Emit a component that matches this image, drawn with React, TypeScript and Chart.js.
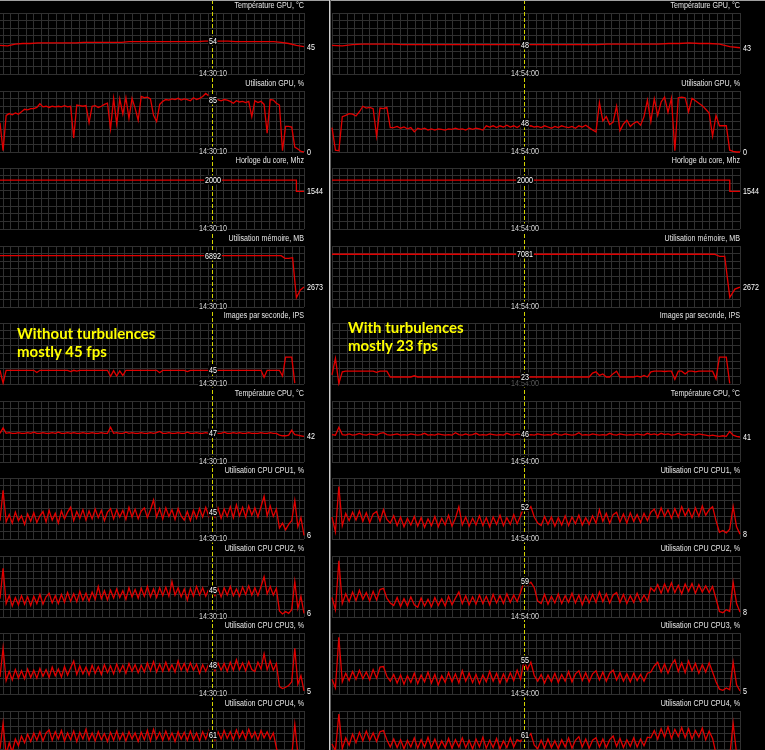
import React, { useEffect, useRef, useState } from 'react';
import { Chart, registerables } from 'chart.js';
Chart.register(...registerables);

// ---------- layout constants ----------
const PITCH = 77.5;
const GRID_TOP = 13;
const GRID_H = 61;
const GRID_COLOR = '#303030';
const LINE_COLOR = '#e00000';
const CURSOR_COLOR = '#d2d200';
const LABEL_FONT = "'Liberation Sans', Arial, sans-serif";
const NARROW = 0.84;

// ---------- text ----------
const TITLES = [
  'Température GPU, °C',
  'Utilisation GPU, %',
  'Horloge du core, Mhz',
  'Utilisation mémoire, MB',
  'Images par seconde, IPS',
  'Température CPU, °C',
  'Utilisation CPU CPU1, %',
  'Utilisation CPU CPU2, %',
  'Utilisation CPU CPU3, %',
  'Utilisation CPU CPU4, %',
];
const Y_MIN = [0, 0, 0, 0, 0, 0, 0, 0, 0, 0];
const Y_MAX = [100, 100, 2500, 8192, 200, 100, 100, 100, 100, 100];
const LEFT_TIME = '14:30:10';
const RIGHT_TIME = '14:54:00';
const LEFT_NOTE = ['Without turbulences', 'mostly 45 fps'];
const RIGHT_NOTE = ['With turbulences', 'mostly 23 fps'];

// ---------- LEFT run (without turbulences) ----------
const L_GPU_TEMP = [47, 46, 49, 50, 50, 51, 51, 51, 51, 51, 51, 52, 52, 52, 52, 52, 52, 53, 53, 53, 53, 53, 53, 53, 53, 53, 53, 54, 54, 54, 54, 53, 53, 53, 53, 53, 53, 52, 50, 47, 45];
const L_GPU_UTIL = [
  48, 2, 60, 63, 61, 64, 62, 66, 70, 69,
  71, 71, 73, 79, 74, 75, 73, 75, 74, 75,
  74, 76, 74, 75, 23, 77, 76, 75, 76, 48,
  75, 76, 73, 75, 78, 80, 38, 88, 46, 87,
  62, 89, 55, 88, 72, 52, 91, 89, 90, 87,
  60, 50, 78, 83, 86, 85, 87, 86, 88, 85,
  87, 86, 84, 89, 86, 88, 91, 96, 92, 85,
  87, 86, 84, 86, 85, 83, 80, 84, 82, 83,
  81, 83, 58, 84, 81, 83, 78, 31, 86, 85,
  80, 77, 2, 42, 42, 41, 8, 5, 1, 0];
const L_CLOCK = [2000, 2000, 2000, 2000, 2000, 2000, 2000, 2000, 2000, 2000, 2000, 2000, 2000, 2000, 2000, 2000, 2000, 2000, 2000, 2000, 2000, 2000, 2000, 2000, 2000, 2000, 2000, 2000, 2000, 2000, 2000, 2000, 2000, 2000, 2000, 2000, 2000, 2000, 2000, 1544, 1544];
const L_MEM = [
  6892, 6892, 6892, 6892, 6892, 6892, 6892, 6892, 6892, 6892,
  6892, 6892, 6892, 6892, 6892, 6892, 6892, 6892, 6892, 6892,
  6892, 6892, 6892, 6892, 6892, 6892, 6892, 6892, 6892, 6892,
  6892, 6892, 6892, 6892, 6892, 6892, 6892, 6892, 6892, 6892,
  6892, 6892, 6892, 6892, 6892, 6892, 6892, 6892, 6892, 6892,
  6892, 6892, 6892, 6892, 6892, 6892, 6892, 6892, 6892, 6892,
  6892, 6892, 6892, 6892, 6892, 6892, 6892, 6892, 6892, 6892,
  6892, 6892, 6892, 6892, 6892, 6540, 6540, 6620, 1250, 2250,
  2673];
const L_FPS = [
  45, 3, 45, 45, 45, 45, 45, 45, 45, 45,
  45, 45, 38, 45, 45, 45, 45, 45, 45, 45,
  45, 45, 45, 41, 45, 42, 45, 45, 45, 45,
  45, 45, 45, 45, 45, 45, 25, 44, 26, 43,
  28, 45, 45, 45, 45, 45, 45, 45, 45, 45,
  45, 45, 37, 45, 45, 45, 45, 45, 45, 45,
  45, 41, 45, 45, 45, 45, 45, 45, 45, 45,
  45, 45, 45, 45, 45, 45, 45, 45, 45, 45,
  45, 45, 45, 45, 45, 45, 22, 45, 45, 45,
  45, 45, 26, 88, 88, 88, 3, null, null, null];
const L_CPU_TEMP = [
  47, 56, 47, 48, 47, 47, 48, 47, 47, 48,
  47, 49, 47, 47, 48, 47, 47, 48, 47, 49,
  47, 47, 48, 47, 48, 47, 47, 48, 47, 47,
  48, 47, 47, 48, 47, 47, 57, 47, 48, 47,
  47, 49, 47, 48, 47, 47, 48, 47, 47, 48,
  47, 48, 50, 47, 47, 48, 47, 47, 48, 47,
  47, 49, 47, 47, 48, 47, 47, 48, 47, 47,
  48, 47, 47, 49, 47, 47, 48, 47, 48, 47,
  47, 48, 47, 47, 47, 48, 47, 47, 48, 47,
  47, 44, 43, 43, 44, 52, 45, 44, 43, 42];
const L_CPU1 = [
  30, 80, 28, 40, 26, 44, 30, 38, 24, 41,
  29, 43, 27, 38, 45, 28, 47, 31, 42, 26,
  46, 33, 44, 52, 30, 45, 34, 48, 31, 46,
  33, 49, 35, 47, 30, 44, 50, 33, 48, 36,
  47, 32, 52, 36, 49, 33, 46, 51, 35, 48,
  64, 36, 50, 33, 51, 37, 48, 32, 50, 38,
  31, 45, 30, 47, 34, 50, 36, 52, 37, 45,
  36, 51, 34, 49, 37, 53, 35, 56, 38, 52,
  36, 54, 39, 51, 36, 53, 70, 38, 54, 37,
  49, 18, 26, 15, 24, 30, 63, 20, 35, 6];
const L_CPU2 = [
  30, 80, 22, 35, 18, 32, 20, 35, 21, 33,
  19, 34, 22, 37, 21, 33, 39, 23, 35, 22,
  37, 24, 40, 26, 38, 25, 42, 27, 39, 26,
  41, 29, 50, 30, 43, 28, 44, 31, 46, 32,
  43, 29, 48, 33, 45, 31, 47, 34, 50, 33,
  46, 32, 48, 35, 49, 34, 58, 36, 48, 33,
  46, 28, 47, 34, 50, 36, 48, 34, 46, 45,
  35, 47, 33, 48, 36, 50, 35, 46, 34, 49,
  37, 51, 36, 48, 35, 50, 66, 38, 50, 36,
  47, 10, 5, 9, 6, 12, 58, 14, 34, 6];
const L_CPU3 = [
  28, 75, 22, 37, 23, 40, 26, 38, 25, 41,
  27, 39, 26, 42, 29, 40, 27, 44, 30, 41,
  28, 45, 31, 43, 54, 32, 46, 33, 44, 31,
  47, 34, 45, 32, 48, 35, 46, 33, 49, 36,
  47, 34, 50, 37, 48, 35, 47, 36, 51, 38,
  53, 36, 49, 37, 52, 38, 48, 36, 54, 39,
  50, 37, 51, 39, 49, 34, 48, 37, 50, 48,
  38, 51, 39, 50, 37, 52, 39, 56, 40, 51,
  38, 53, 40, 37, 52, 41, 66, 40, 54, 39,
  50, 12, 9, 11, 14, 20, 75, 16, 30, 5];
const L_CPU4 = [
  38, 80, 28, 48, 33, 54, 43, 59, 48, 62,
  50, 64, 52, 66, 51, 64, 69, 52, 66, 54,
  68, 51, 64, 53, 67, 50, 65, 54, 70, 52,
  64, 51, 66, 53, 63, 50, 65, 52, 67, 53,
  64, 51, 66, 54, 64, 50, 65, 53, 68, 51,
  70, 54, 65, 52, 67, 53, 64, 50, 66, 54,
  65, 52, 67, 53, 64, 51, 66, 54, 68, 61,
  52, 66, 54, 68, 55, 66, 53, 69, 56, 67,
  54, 70, 56, 66, 53, 68, 56, 66, 54, 64,
  40, 20, 16, 24, 18, 26, 78, 30, 25, 20];

// ---------- RIGHT run (with turbulences) ----------
const R_GPU_TEMP = [47, 46, 48, 49, 49, 49, 49, 48, 48, 48, 48, 48, 48, 48, 48, 48, 48, 48, 48, 48, 48, 48, 48, 48, 48, 48, 48, 49, 49, 49, 49, 49, 49, 50, 50, 51, 50, 50, 49, 45, 43];
const R_GPU_UTIL = [
  40, 3, 2, 58, 60, 63, 62, 59, 66, 75,
  72, 73, 71, 26, 72, 71, 73, 40, 40, 42,
  39, 41, 38, 40, 33, 39, 37, 39, 36, 38,
  36, 38, 37, 36, 38, 37, 39, 37, 38, 36,
  39, 37, 39, 38, 36, 43, 41, 43, 40, 43,
  41, 44, 41, 43, 40, 44, 48, 42, 43, 41,
  42, 40, 43, 41, 39, 42, 40, 43, 41, 40,
  42, 39, 43, 41, 44, 40, 36, 33, 81, 51,
  58, 45, 49, 75, 35, 46, 52, 42, 47, 50,
  44, 58, 85, 50, 87, 60, 82, 90, 65, 88,
  2, 89, 90, 89, 66, 88, 84, 80, 76, 70,
  64, 26, 60, 43, 43, 43, 3, 1, 0, 0];
const R_CLOCK = [2000, 2000, 2000, 2000, 2000, 2000, 2000, 2000, 2000, 2000, 2000, 2000, 2000, 2000, 2000, 2000, 2000, 2000, 2000, 2000, 2000, 2000, 2000, 2000, 2000, 2000, 2000, 2000, 2000, 2000, 2000, 2000, 2000, 2000, 2000, 2000, 2000, 2000, 2000, 1544, 1544];
const R_MEM = [
  7081, 7081, 7081, 7081, 7081, 7081, 7081, 7081, 7081, 7081,
  7081, 7081, 7081, 7081, 7081, 7081, 7081, 7081, 7081, 7081,
  7081, 7081, 7081, 7081, 7081, 7081, 7081, 7081, 7081, 7081,
  7081, 7081, 7081, 7081, 7081, 7081, 7081, 7081, 7081, 7081,
  7081, 7081, 7081, 7081, 7081, 7081, 7081, 7081, 7081, 7081,
  7081, 7081, 7081, 7081, 7081, 7081, 7081, 7081, 7081, 7081,
  7081, 7081, 7081, 7081, 7081, 7081, 7081, 7081, 7081, 7081,
  7081, 7081, 7081, 7081, 7081, 7081, 6800, 6800, 1300, 2400,
  2672];
const R_FPS = [
  30, 84, 2, 40, 42, 42, 42, 42, 42, 42,
  42, 42, 42, 38, 42, 42, 42, 23, 23, 23,
  23, 23, 23, 23, 27, 23, 23, 23, 23, 23,
  23, 23, 23, 23, 23, 23, 23, 23, 23, 23,
  23, 23, 23, 23, 23, 23, 23, 23, 23, 23,
  23, 23, 23, 23, 23, 23, 23, 23, 23, 23,
  23, 23, 23, 23, 23, 23, 23, 23, 23, 23,
  23, 23, 23, 23, 23, 23, 36, 40, 28, 33,
  23, 23, 34, 42, 23, 23, 23, 23, 23, 26,
  23, 28, 23, 40, 42, 42, 42, 41, 42, 42,
  15, 42, 42, 33, 42, 42, 40, 42, 42, 42,
  42, 42, 17, 88, 88, 88, 2, null, null, null];
const R_CPU_TEMP = [
  45, 44, 57, 45, 44, 46, 44, 45, 47, 45,
  44, 46, 45, 44, 47, 48, 45, 44, 45, 46,
  44, 45, 44, 46, 45, 44, 45, 47, 44, 45,
  44, 46, 45, 44, 45, 44, 48, 45, 44, 46,
  44, 45, 47, 44, 45, 44, 46, 45, 44, 45,
  44, 47, 45, 44, 46, 45, 46, 44, 45, 44,
  46, 45, 44, 45, 44, 47, 45, 44, 46, 45,
  44, 45, 48, 44, 45, 44, 46, 45, 44, 45,
  44, 47, 45, 44, 46, 45, 44, 45, 44, 46,
  45, 44, 47, 45, 46, 44, 47, 45, 46, 44,
  45, 47, 45, 44, 46, 45, 44, 46, 45, 44,
  43, 44, 43, 42, 43, 42, 50, 44, 42, 41];
const R_CPU1 = [
  36, 12, 86, 22, 42, 30, 44, 31, 46, 29,
  43, 27, 41, 45, 29, 48, 32, 26, 38, 22,
  36, 20, 34, 23, 37, 21, 35, 19, 33, 22,
  37, 20, 34, 23, 39, 21, 34, 53, 23, 36,
  21, 34, 23, 38, 22, 35, 20, 36, 24, 39,
  22, 35, 24, 40, 25, 38, 52, 46, 53, 36,
  26, 22, 37, 24, 36, 21, 35, 23, 38, 22,
  36, 25, 39, 23, 35, 24, 38, 26, 48, 29,
  42, 26, 40, 44, 28, 41, 26, 43, 29, 40,
  27, 42, 30, 44, 49, 35, 51, 37, 48, 34,
  50, 36, 53, 38, 49, 35, 51, 37, 54, 39,
  48, 53, 30, 11, 14, 10, 16, 53, 20, 8];
const R_CPU2 = [
  32, 12, 92, 22, 38, 25, 41, 27, 44, 29,
  40, 26, 42, 28, 45, 47, 31, 23, 19, 32,
  17, 30, 18, 33, 20, 16, 31, 18, 29, 17,
  32, 19, 30, 18, 34, 20, 31, 41, 22, 35,
  20, 33, 21, 36, 22, 34, 20, 37, 23, 35,
  22, 38, 24, 36, 25, 40, 59, 52, 57, 48,
  26, 22, 37, 21, 34, 23, 38, 22, 35, 24,
  39, 23, 36, 20, 35, 23, 37, 24, 41, 25,
  38, 23, 36, 40, 24, 37, 22, 35, 24, 39,
  25, 36, 26, 48, 42, 53, 39, 54, 41, 56,
  40, 52, 38, 54, 42, 55, 39, 53, 41, 51,
  40, 50, 30, 9, 7, 12, 9, 57, 22, 8];
const R_CPU3 = [
  24, 10, 93, 20, 34, 22, 37, 24, 39, 25,
  36, 23, 40, 26, 44, 45, 29, 21, 32, 18,
  31, 16, 30, 19, 34, 17, 31, 20, 36, 18,
  32, 15, 30, 19, 35, 20, 33, 18, 38, 21,
  34, 19, 32, 17, 31, 20, 37, 21, 34, 18,
  33, 20, 35, 22, 39, 24, 55, 40, 52, 30,
  21, 32, 18, 31, 20, 34, 19, 32, 21, 37,
  20, 33, 38, 22, 35, 20, 33, 38, 23, 36,
  21, 34, 39, 23, 35, 21, 33, 20, 34, 22,
  32, 21, 34, 36, 46, 52, 36, 49, 34, 48,
  56, 37, 51, 35, 54, 38, 50, 34, 48, 36,
  51, 36, 20, 8, 6, 10, 7, 52, 15, 5];
const R_CPU4 = [
  46, 35, 95, 38, 56, 44, 62, 48, 65, 51,
  67, 52, 64, 50, 66, 68, 53, 41, 54, 40,
  53, 38, 52, 41, 56, 39, 53, 41, 57, 40,
  54, 38, 51, 40, 55, 39, 53, 41, 56, 40,
  52, 38, 54, 41, 57, 39, 52, 40, 55, 38,
  51, 40, 56, 41, 53, 50, 61, 56, 63, 44,
  38, 52, 39, 54, 40, 51, 38, 53, 41, 56,
  39, 52, 58, 41, 54, 39, 52, 56, 41, 54,
  40, 53, 59, 42, 55, 40, 53, 42, 56, 41,
  54, 43, 57, 56, 68, 54, 71, 57, 74, 55,
  70, 58, 73, 56, 71, 54, 68, 57, 72, 53,
  67, 55, 30, 20, 16, 24, 25, 80, 30, 20];

const LEFT_SERIES = [L_GPU_TEMP, L_GPU_UTIL, L_CLOCK, L_MEM, L_FPS, L_CPU_TEMP, L_CPU1, L_CPU2, L_CPU3, L_CPU4];
const RIGHT_SERIES = [R_GPU_TEMP, R_GPU_UTIL, R_CLOCK, R_MEM, R_FPS, R_CPU_TEMP, R_CPU1, R_CPU2, R_CPU3, R_CPU4];
const STEPPED = [false, false, true, false, false, false, false, false, false, false];

// xMin shifts the grid phase; cursor is in the same (grid-cell) units
const COLUMNS = [
  { key: 'L', left: 0, width: 304, cells: 40, xMin: -0.43, cursor: 27.47, time: LEFT_TIME, series: LEFT_SERIES, dimTime: -1 },
  { key: 'R', left: 332, width: 408, cells: 54, xMin: 0, cursor: 25.4, time: RIGHT_TIME, series: RIGHT_SERIES, dimTime: 4 },
];

const smallText: any = {
  position: 'absolute',
  fontFamily: LABEL_FONT,
  fontSize: '8.5px',
  lineHeight: '9px',
  whiteSpace: 'nowrap',
};

function Panel({ col, k }: any) {
  const ref = useRef<HTMLCanvasElement>(null);
  const [info, setInfo] = useState<any>(null);
  const values: (number | null)[] = col.series[k];
  const top = Math.round(PITCH * k);
  const h = Math.round(PITCH * (k + 1)) - top;
  const PAD = 4;
  const cLeft = col.left - PAD;
  const w = col.width + PAD * 2;

  useEffect(() => {
    const n = values.length;
    const xMax = col.xMin + col.cells;
    const data = values.map((v, i) => ({ x: col.xMin + (i * col.cells) / (n - 1), y: v }));
    const cursorPlugin = {
      id: 'cursorLine',
      afterDatasetsDraw(chart: any) {
        const x = Math.round(chart.scales.x.getPixelForValue(col.cursor)) + 0.5;
        const ctx = chart.ctx;
        ctx.save();
        ctx.strokeStyle = CURSOR_COLOR;
        ctx.lineWidth = 1;
        ctx.setLineDash([4, 2]);
        ctx.lineDashOffset = top % 6;
        ctx.beginPath();
        ctx.moveTo(x, 0);
        ctx.lineTo(x, chart.height);
        ctx.stroke();
        ctx.restore();
      },
    };
    const gridOpts = { color: GRID_COLOR, drawTicks: false, lineWidth: 1 };
    const chart = new Chart(ref.current as HTMLCanvasElement, {
      type: 'line',
      data: {
        datasets: [
          {
            data: data as any,
            borderColor: LINE_COLOR,
            borderWidth: 1.3,
            pointRadius: 0,
            tension: 0,
            stepped: STEPPED[k] ? 'before' : false,
            clip: false as any,
            spanGaps: false,
          },
        ],
      },
      options: {
        responsive: false,
        animation: false,
        events: [],
        layout: { padding: { left: PAD, right: PAD, top: GRID_TOP, bottom: h - GRID_TOP - GRID_H } },
        plugins: { legend: { display: false }, tooltip: { enabled: false } },
        scales: {
          x: {
            type: 'linear',
            min: col.xMin,
            max: xMax,
            ticks: { display: false },
            afterBuildTicks(axis: any) {
              const t: any[] = [];
              for (let v = Math.ceil(axis.min); v <= axis.max + 1e-9; v++) t.push({ value: v });
              t.push({ value: axis.max });
              axis.ticks = t;
            },
            grid: gridOpts,
            border: { display: false },
          },
          y: {
            min: Y_MIN[k],
            max: Y_MAX[k],
            ticks: { display: false, stepSize: (Y_MAX[k] - Y_MIN[k]) / 8 },
            grid: gridOpts,
            border: { display: false },
          },
        },
      } as any,
      plugins: [cursorPlugin],
    });
    const xs: any = chart.scales.x;
    const ys: any = chart.scales.y;
    const ci = Math.round(((col.cursor - col.xMin) / col.cells) * (n - 1));
    const cv = values[ci];
    const lv = values[n - 1];
    setInfo({
      cx: cLeft + Math.round(xs.getPixelForValue(col.cursor)) + 0.5,
      cy: cv == null ? null : top + ys.getPixelForValue(cv),
      cv,
      ly: lv == null ? null : top + ys.getPixelForValue(lv),
      lv,
      ty: top + ys.getPixelForValue(Y_MIN[k]) - 1,
      ex: cLeft + xs.getPixelForValue(xMax) + 3,
    });
    return () => chart.destroy();
  }, []);

  return (
    <>
      <canvas
        ref={ref}
        width={w}
        height={h}
        style={{ position: 'absolute', left: cLeft, top, width: w, height: h }}
      />
      <div
        style={{
          ...smallText,
          left: col.left + col.width - 200,
          width: 200,
          textAlign: 'right',
          top: top + 1,
          color: '#e6e6e6',
          transform: `scaleX(${NARROW})`,
          transformOrigin: 'right center',
        }}
      >
        {TITLES[k]}
      </div>
      {info && (
        <>
          <div
            style={{
              ...smallText,
              left: info.cx,
              top: info.ty,
              transform: `translate(-50%, -50%) scaleX(${NARROW})`,
              background: '#000',
              color: col.dimTime === k ? '#5a5a5a' : '#dcdcdc',
              padding: '0 1px',
            }}
          >
            {col.time}
          </div>
          {info.cy != null && (
            <div
              style={{
                ...smallText,
                left: info.cx,
                top: info.cy,
                transform: `translate(-50%, -50%) scaleX(${NARROW})`,
                background: '#000',
                color: '#ffffff',
                padding: '0 1px',
              }}
            >
              {info.cv}
            </div>
          )}
          {info.ly != null && (
            <div
              style={{
                ...smallText,
                left: info.ex,
                top: info.ly,
                transform: `translateY(-50%) scaleX(${NARROW})`,
                transformOrigin: 'left center',
                color: '#ffffff',
              }}
            >
              {info.lv}
            </div>
          )}
        </>
      )}
    </>
  );
}

const noteStyle: any = {
  position: 'absolute',
  fontFamily: "Lato, 'Open Sans', sans-serif",
  fontWeight: 700,
  fontSize: '15px',
  lineHeight: '17.5px',
  color: '#ffff00',
  whiteSpace: 'nowrap',
};

export default function App() {
  return (
    <div
      style={{
        position: 'fixed',
        left: 0,
        top: 0,
        width: 765,
        height: 750,
        background: '#000',
        overflow: 'hidden',
      }}
    >
      {COLUMNS.map((col) =>
        TITLES.map((_, k) => <Panel key={col.key + k} col={col} k={k} />)
      )}
      <div style={{ position: 'absolute', left: 0, top: 0, width: 765, height: 1, background: '#a0a0a0' }} />
      <div style={{ position: 'absolute', left: 329, top: 0, width: 1, height: 750, background: '#d0d0d0' }} />
      <div style={{ position: 'absolute', left: 330, top: 0, width: 1, height: 750, background: '#606060' }} />
      <div style={{ ...noteStyle, left: 17, top: 325 }}>
        {LEFT_NOTE[0]}
        <br />
        {LEFT_NOTE[1]}
      </div>
      <div style={{ ...noteStyle, left: 348, top: 319 }}>
        {RIGHT_NOTE[0]}
        <br />
        {RIGHT_NOTE[1]}
      </div>
    </div>
  );
}
